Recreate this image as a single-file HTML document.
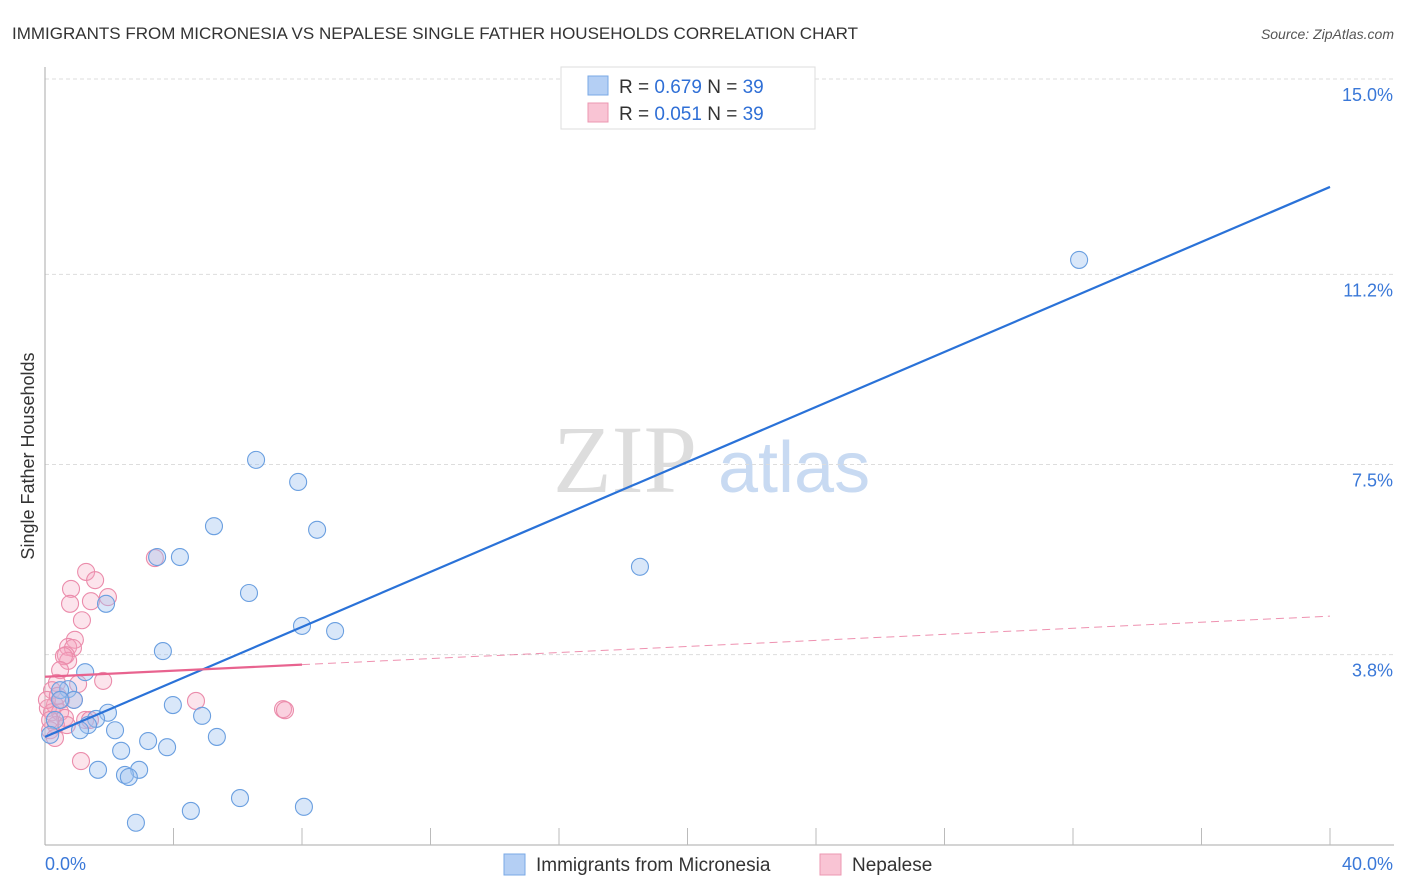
<!DOCTYPE html>
<html><head><meta charset="utf-8"><style>
body{margin:0;background:#fff;font-family:"Liberation Sans",sans-serif}
svg{display:block}
</style></head><body>
<svg id="chart" width="1406" height="892" font-family="Liberation Sans, sans-serif">
<text x="12" y="39" font-size="17" fill="#333">IMMIGRANTS FROM MICRONESIA VS NEPALESE SINGLE FATHER HOUSEHOLDS CORRELATION CHART</text>
<text x="1394" y="39" font-size="14" fill="#555" font-style="italic" text-anchor="end">Source: ZipAtlas.com</text>
<text x="0" y="0" transform="translate(34,456) rotate(-90)" font-size="18" fill="#333" text-anchor="middle">Single Father Households</text>
<text x="553" y="492" font-size="96" fill="#ddd" font-family="Liberation Serif, serif">ZIP</text>
<text x="718" y="492" font-size="72" fill="#c8daf2">atlas</text>
<g id="grid"></g>
<g id="axes"></g>
<g id="pts"></g>
<g id="lines"></g>
<g>
<rect x="561" y="67" width="254" height="62" fill="#fff" stroke="#ddd"/>
<rect x="588" y="76" width="20" height="19" fill="#b4cff4" stroke="#7aa8e6"/>
<text x="619" y="93" font-size="19" fill="#333">R = <tspan fill="#2f6fd6">0.679</tspan>    N = <tspan fill="#2f6fd6">39</tspan></text>
<rect x="588" y="103" width="20" height="19" fill="#f9c4d4" stroke="#ec97b2"/>
<text x="619" y="120" font-size="19" fill="#333">R = <tspan fill="#2f6fd6">0.051</tspan>    N = <tspan fill="#2f6fd6">39</tspan></text>
</g>
<g>
<rect x="504" y="854" width="21" height="21" fill="#b4cff4" stroke="#7aa8e6"/>
<text x="536" y="871" font-size="19" fill="#333">Immigrants from Micronesia</text>
<rect x="820" y="854" width="21" height="21" fill="#f9c4d4" stroke="#ec97b2"/>
<text x="852" y="871" font-size="19" fill="#333">Nepalese</text>
</g>
</svg>
<script>
const yTicks=[3.8,7.5,11.2,15.0];
const yTickLabels=["3.8%","7.5%","11.2%","15.0%"];
const xTickLabels=["0.0%","40.0%"];
const blueX=[32.19,6.57,7.88,5.26,8.47,3.49,4.20,18.52,6.35,1.90,8.00,9.03,3.67,1.25,0.72,0.47,0.90,1.96,3.98,4.89,1.59,1.34,1.09,2.18,3.21,5.35,2.37,3.80,1.65,2.93,2.49,2.61,6.07,8.06,4.54,2.83,0.47,0.31,0.16];
const blueY=[11.48,7.59,7.16,6.30,6.23,5.70,5.70,5.51,5.00,4.79,4.36,4.26,3.87,3.46,3.13,3.11,2.92,2.67,2.82,2.61,2.55,2.43,2.33,2.33,2.12,2.20,1.93,2.00,1.56,1.56,1.46,1.42,1.01,0.84,0.76,0.53,2.92,2.53,2.24];
const pinkX=[3.42,1.28,1.56,0.81,1.96,0.78,1.43,1.15,0.93,0.72,0.87,0.65,0.72,0.59,0.47,1.81,0.37,1.03,0.22,4.70,0.50,0.90,0.31,0.09,0.22,0.47,7.41,7.47,1.25,1.40,0.62,0.34,0.68,0.16,0.31,1.12,0.06,0.16,0.40];
const pinkY=[5.68,5.41,5.25,5.08,4.92,4.79,4.84,4.47,4.09,3.95,3.93,3.79,3.68,3.77,3.50,3.29,3.25,3.23,3.11,2.90,2.92,2.92,2.82,2.76,2.68,2.68,2.74,2.72,2.53,2.53,2.57,2.43,2.43,2.33,2.18,1.73,2.92,2.53,3.00];
const blueTrend=[2.20,12.90];
const pinkTrend=[3.37,4.55];
const pinkSolidEnd=8;
const NS="http://www.w3.org/2000/svg";
const X=v=>45+v*(1285/40);
const Y=v=>850-v*51.4;
function mk(tag,attrs,parent){const e=document.createElementNS(NS,tag);for(const k in attrs)e.setAttribute(k,attrs[k]);document.getElementById(parent).appendChild(e);return e;}
yTicks.forEach((t,i)=>{
  const g=mk('line',{x1:45,x2:1394,y1:Y(t),y2:Y(t),stroke:'#ddd','stroke-dasharray':'4,3'},'grid');
  
  
  const l=mk('text',{x:1393,y:Y(t)+22,'font-size':18,fill:'#3a78d8','text-anchor':'end'},'grid');
  l.textContent=yTickLabels[i];
  
  
});
const ax=mk('line',{x1:45,x2:45,y1:67,y2:845,stroke:'#aaa'},'axes');


const bx=mk('line',{x1:45,x2:1394,y1:845,y2:845,stroke:'#aaa'},'axes');


for(let i=1;i<=10;i++){
  const t=mk('line',{x1:X(i*4),x2:X(i*4),y1:828,y2:845,stroke:'#bbb'},'axes');
  
  
}
[[0,'start',45],[40,'end',1393]].forEach((d,i)=>{
  const t=mk('text',{x:d[2],y:870,'font-size':18,fill:'#3a78d8','text-anchor':d[1]},'axes');
  t.textContent=xTickLabels[i];
  
  
});
pinkX.forEach((x,i)=>{
  const c=mk('circle',{cx:X(x),cy:Y(pinkY[i]),r:8.5,fill:'rgba(245,165,192,0.3)',stroke:'#eb8cab','stroke-width':1.1},'pts');
  
  
});
blueX.forEach((x,i)=>{
  const c=mk('circle',{cx:X(x),cy:Y(blueY[i]),r:8.5,fill:'rgba(160,196,240,0.4)',stroke:'#6a9fe0','stroke-width':1.1},'pts');
  
  
});
const bl=mk('line',{x1:X(0),y1:Y(blueTrend[0]),x2:X(40),y2:Y(blueTrend[1]),stroke:'#2a72d8','stroke-width':2.2},'lines');


const pe=pinkTrend[0]+(pinkTrend[1]-pinkTrend[0])*pinkSolidEnd/40;
const ps=mk('line',{x1:X(0),y1:Y(pinkTrend[0]),x2:X(pinkSolidEnd),y2:Y(pe),stroke:'#e8638f','stroke-width':2.2},'lines');


const pd=mk('line',{x1:X(pinkSolidEnd),y1:Y(pe),x2:X(40),y2:Y(pinkTrend[1]),stroke:'#e8638f','stroke-width':1,'stroke-dasharray':'8,5','opacity':0.7},'lines');


</script>
</body></html>
